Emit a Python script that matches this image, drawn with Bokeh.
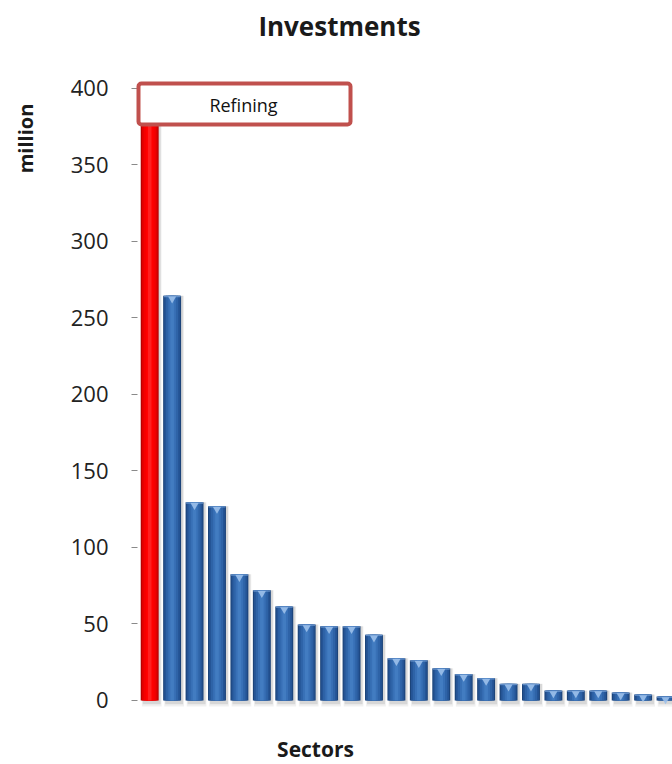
from bokeh.plotting import figure
from bokeh.models import Range1d, FixedTicker, Label, BoxAnnotation, ColumnDataSource, LinearAxis
from bokeh.embed import file_html
from bokeh.resources import INLINE

# Investment per sector (million), sorted from largest to smallest
sector_index = list(range(1, 25))
investment = [383, 264.5, 129.5, 127, 82.5, 72, 61.5, 49.7, 48.5, 48.5, 43, 27.6,
              26.3, 21, 17.2, 14.6, 10.9, 10.9, 6.5, 6.5, 6.5, 5.2, 3.9, 2.6]
highlight_name = "Refining"
y_ticks = [0, 50, 100, 150, 200, 250, 300, 350, 400]

FONT = "Open Sans"
W, H = 672, 764

# the plotting frame fills the whole canvas; the value axis sits at a fixed x
p = figure(width=W, height=H, output_backend="svg", toolbar_location=None,
           x_range=Range1d(-5.652, 24.31), y_range=Range1d(-41.83, 457.5),
           x_axis_type=None, y_axis_type=None,
           min_border_left=0, min_border_right=0, min_border_top=0,
           min_border_bottom=0)
p.title = None
p.outline_line_color = None
p.grid.visible = False
p.background_fill_color = "white"
p.border_fill_color = "white"

ya = LinearAxis(fixed_location=0.456)
ya.ticker = FixedTicker(ticks=y_ticks)
ya.axis_line_color = None
ya.major_tick_line_color = "#8a8a8a"
ya.major_tick_out = 6
ya.major_tick_in = 0
ya.minor_tick_line_color = None
ya.major_label_standoff = 23
ya.major_label_text_font = FONT
ya.major_label_text_font_size = "22px"
ya.major_label_text_color = "#222222"
p.add_layout(ya, "left")

# split the first (highlighted) bar from the rest
first = dict(x=sector_index[:1], top=investment[:1])
rest = dict(x=sector_index[1:], top=investment[1:])
src_first = ColumnDataSource(first)
src_rest = ColumnDataSource(rest)

# soft drop shadow to the lower right of every bar
shadow_x = [x + 0.09 for x in sector_index]
p.vbar(x=shadow_x, top=investment, bottom=-4, width=0.88, fill_color="#000000",
       fill_alpha=0.06, line_color=None)
p.vbar(x=shadow_x, top=investment, bottom=-2.5, width=0.8, fill_color="#000000",
       fill_alpha=0.10, line_color=None)

# layered fills give each bar a rounded, bevelled look
blue_layers = [(0.80, "#1c447a"), (0.70, "#255495"), (0.54, "#2e63a7"),
               (0.34, "#3870b6"), (0.16, "#427cc1")]
red_layers = [(0.80, "#b40000"), (0.70, "#e00000"), (0.54, "#f50000"),
              (0.34, "#ff0000"), (0.16, "#ff2020")]
for w, c in blue_layers:
    p.vbar(x="x", top="top", bottom=0, width=w, source=src_rest,
           fill_color=c, line_color=None)
for w, c in red_layers:
    p.vbar(x="x", top="top", bottom=0, width=w, source=src_first,
           fill_color=c, line_color=None)

# light bevel highlight at the top of each blue bar
cap_y = [t - 2.0 for t in rest["top"]]
p.vbar(x=rest["x"], top=rest["top"], bottom=[t - 0.9 for t in rest["top"]],
       width=0.76, fill_color="#6f9bd3", line_color=None, fill_alpha=0.8)
p.scatter(x=rest["x"], y=cap_y, marker="inverted_triangle", size=8,
          fill_color="#9cc0ea", line_color=None, fill_alpha=0.9)

# callout naming the largest sector
box = BoxAnnotation(left=138, right=350, top=H - 83, bottom=H - 124,
                    left_units="screen", right_units="screen",
                    top_units="screen", bottom_units="screen",
                    fill_color="white", fill_alpha=1.0,
                    line_color="#c0504d", line_alpha=1.0, line_width=4,
                    border_radius=3)
p.add_layout(box)
p.add_layout(Label(x=243, y=H - 104, x_units="screen", y_units="screen",
                   text=highlight_name, text_font=FONT, text_font_size="18px",
                   text_color="#111111", text_align="center",
                   text_baseline="middle"))

# chart title and axis titles
p.add_layout(Label(x=339, y=H - 25, x_units="screen", y_units="screen",
                   text="Investments", text_font=FONT, text_font_size="26px",
                   text_font_style="bold", text_color="#1a1a1a",
                   text_align="center", text_baseline="middle"))
p.add_layout(Label(x=25, y=H - 138, x_units="screen", y_units="screen",
                   text="million", text_font=FONT, text_font_size="20px",
                   text_font_style="bold", text_color="#1a1a1a", angle=1.5708,
                   text_align="center", text_baseline="middle"))
p.add_layout(Label(x=315, y=H - 748, x_units="screen", y_units="screen",
                   text="Sectors", text_font=FONT, text_font_size="21px",
                   text_font_style="bold", text_color="#1a1a1a",
                   text_align="center", text_baseline="middle"))

open("out.html", "w").write(file_html(p, INLINE))
